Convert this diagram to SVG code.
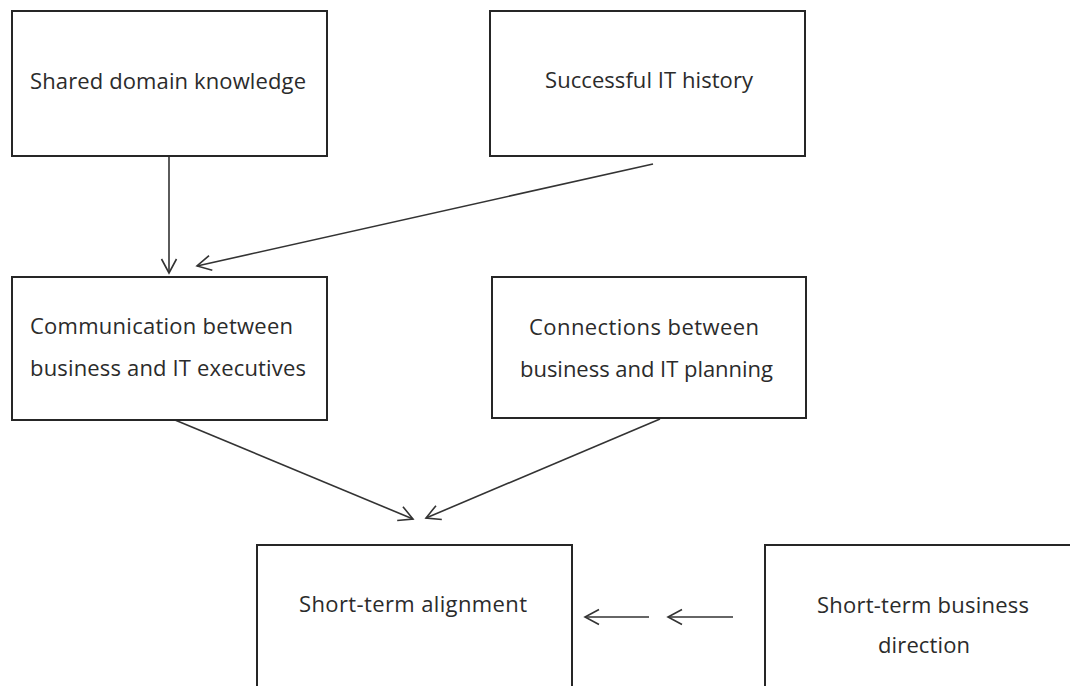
<svg xmlns="http://www.w3.org/2000/svg" width="1070" height="686" viewBox="0 0 1070 686">
  <style>
    .box { fill: #ffffff; stroke: #262626; stroke-width: 2; }
    .label { font-family: "Open Sans", "Liberation Sans", sans-serif; font-size: 22px; fill: #2b2b2b; text-anchor: middle; }
    .label.left { text-anchor: start; }
    .edge { fill: none; stroke: #333333; stroke-width: 1.6; marker-end: url(#open-arrow); }
  </style>
  <defs>
    <!-- open V-shaped arrowhead -->
    <marker id="open-arrow" markerUnits="userSpaceOnUse" markerWidth="20" markerHeight="20" viewBox="-16 -10 20 20" refX="0" refY="0" orient="auto" overflow="visible">
      <path d="M -14 -7.5 L 0 0 L -14 7.5" fill="none" stroke="#333333" stroke-width="1.6" stroke-linejoin="miter"/>
    </marker>
  </defs>

  <rect x="0" y="0" width="1070" height="686" fill="#ffffff"/>

  <g id="connectors">
    <line class="edge" x1="169" y1="156" x2="169" y2="273"/>
    <line class="edge" x1="653" y1="164" x2="197" y2="266"/>
    <line class="edge" x1="175" y1="420" x2="413" y2="519"/>
    <line class="edge" x1="660" y1="419" x2="426" y2="518"/>
    <line class="edge" x1="649" y1="617" x2="585" y2="617"/>
    <line class="edge" x1="733" y1="617" x2="668" y2="617"/>
  </g>

  <g id="shared-domain-knowledge">
    <rect class="box" x="12" y="11" width="315" height="145"/>
    <text class="label" x="168" y="89" textLength="276">Shared domain knowledge</text>
  </g>

  <g id="successful-it-history">
    <rect class="box" x="490" y="11" width="315" height="145"/>
    <text class="label" x="649" y="88" textLength="208">Successful IT history</text>
  </g>

  <g id="communication">
    <rect class="box" x="12" y="277" width="315" height="143"/>
    <text class="label left" x="30" y="334" textLength="263">Communication between</text>
    <text class="label left" x="30" y="376" textLength="276">business and IT executives</text>
  </g>

  <g id="connections">
    <rect class="box" x="492" y="277" width="314" height="141"/>
    <text class="label" x="644" y="335" textLength="230">Connections between</text>
    <text class="label" x="646.5" y="377" textLength="253">business and IT planning</text>
  </g>

  <g id="short-term-alignment">
    <rect class="box" x="257" y="545" width="315" height="160"/>
    <text class="label" x="413" y="612" textLength="228">Short-term alignment</text>
  </g>

  <g id="short-term-business-direction">
    <rect class="box" x="765" y="545" width="318" height="160"/>
    <text class="label" x="923" y="613" textLength="212">Short-term business</text>
    <text class="label" x="924" y="653" textLength="92">direction</text>
  </g>
</svg>
